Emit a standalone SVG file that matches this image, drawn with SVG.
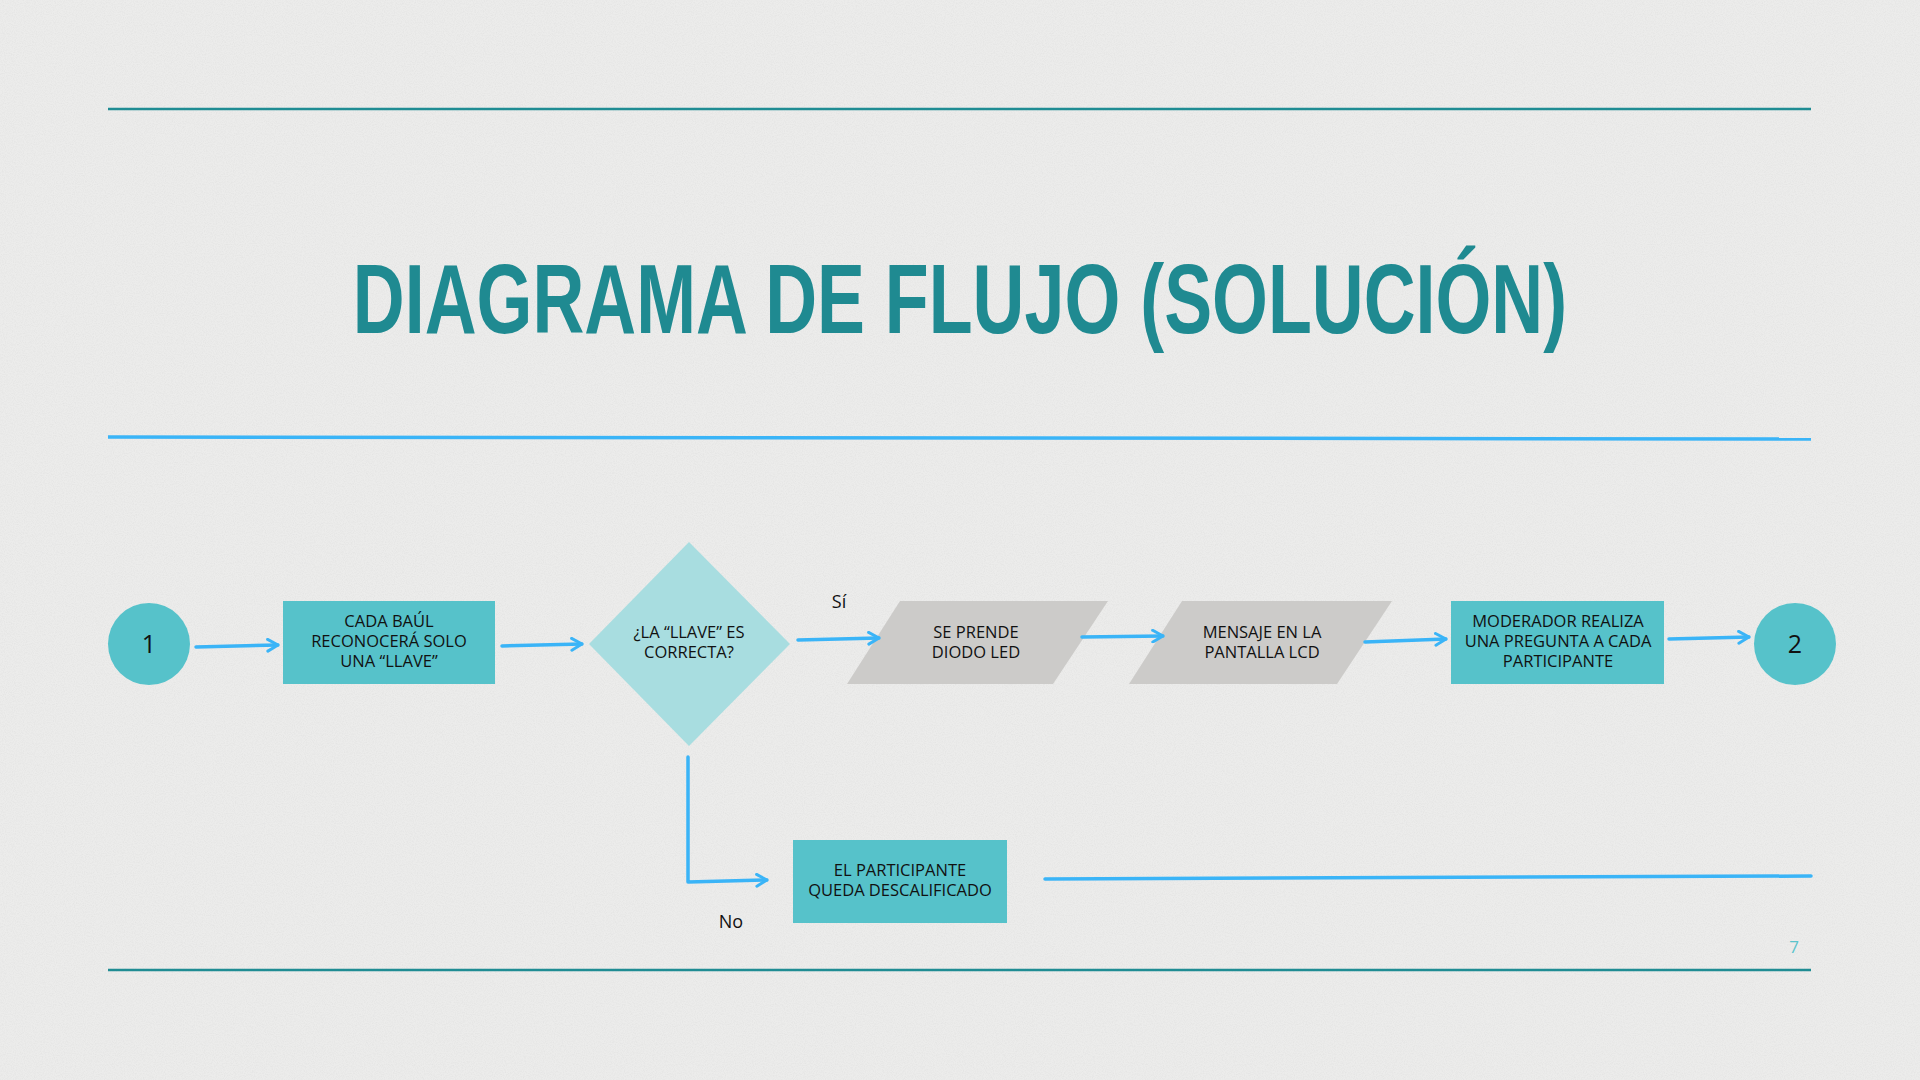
<svg xmlns="http://www.w3.org/2000/svg" width="1920" height="1080" viewBox="0 0 1920 1080">
<defs>
<style>
.node{fill:#56c2ca}
.dia{fill:#a8dde0}
.par{fill:#cccbc9}
.t{font-family:"Open Sans","Noto Sans",sans-serif;font-size:16.5px;fill:#111;text-anchor:middle}
.lbl{font-family:"Open Sans","Noto Sans",sans-serif;font-size:18px;fill:#111;text-anchor:middle}
.num{font-family:"Open Sans","Noto Sans",sans-serif;font-size:25px;fill:#111;text-anchor:middle}
.c{fill:none;stroke:#3ab4f7;stroke-width:3.5;stroke-linecap:round;stroke-linejoin:round}
</style>
<marker id="ah" viewBox="0 0 10 10" refX="9" refY="5" markerWidth="4.2" markerHeight="4.2" markerUnits="strokeWidth" orient="auto">
<path d="M2,1 L9,5 L2,9" fill="none" stroke="#3ab4f7" stroke-width="2" stroke-linecap="round" stroke-linejoin="round"/>
</marker>
<filter id="paper" x="0" y="0" width="100%" height="100%">
<feTurbulence type="fractalNoise" baseFrequency="0.9" numOctaves="2" seed="3" result="n"/>
<feColorMatrix type="matrix" values="0 0 0 0 0.5  0 0 0 0 0.5  0 0 0 0 0.5  0 0 0 -1.2 0.75" result="m"/>
<feComposite in="m" in2="SourceGraphic" operator="in"/>
</filter>
</defs>
<rect width="1920" height="1080" fill="#ececeb"/>
<rect width="1920" height="1080" fill="#ececeb" filter="url(#paper)" opacity="0.25"/>

<g id="decor">
<line x1="108" y1="109" x2="1811" y2="109" stroke="#1f8c93" stroke-width="2.5"/>
<line x1="108" y1="437" x2="1811" y2="439" stroke="#3ab4f7" stroke-width="3.5"/>
<line x1="108" y1="970" x2="1811" y2="970" stroke="#1f8c93" stroke-width="2.5"/>
<text transform="scale(0.733,1)" x="1309.7" y="333" font-family="'Liberation Sans','DejaVu Sans',sans-serif" font-weight="bold" font-size="98" fill="#1f8a91" text-anchor="middle">DIAGRAMA DE FLUJO (SOLUCIÓN)</text>
<text x="1794" y="953" font-family="'Open Sans',sans-serif" font-size="17" fill="#5bc4cc" text-anchor="middle">7</text>
</g>

<g id="n-start">
<circle cx="149" cy="644" r="41" class="node"/>
<text x="149" y="653" class="num">1</text>
</g>
<g id="n-baul">
<rect x="283" y="601" width="212" height="83" class="node"/>
<text class="t"><tspan x="389" y="627">CADA BAÚL</tspan><tspan x="389" y="647">RECONOCERÁ SOLO</tspan><tspan x="389" y="667">UNA “LLAVE”</tspan></text>
</g>
<g id="n-decision">
<polygon points="689,542 790,644 689,746 589,644" class="dia"/>
<text class="t"><tspan x="689" y="638">¿LA “LLAVE” ES</tspan><tspan x="689" y="658">CORRECTA?</tspan></text>
</g>
<g id="n-led">
<polygon points="900,601 1108,601 1053,684 847,684" class="par"/>
<text class="t"><tspan x="976" y="638">SE PRENDE</tspan><tspan x="976" y="658">DIODO LED</tspan></text>
</g>
<g id="n-lcd">
<polygon points="1182,601 1392,601 1337,684 1129,684" class="par"/>
<text class="t"><tspan x="1262" y="638">MENSAJE EN LA</tspan><tspan x="1262" y="658">PANTALLA LCD</tspan></text>
</g>
<g id="n-moderador">
<rect x="1451" y="601" width="213" height="83" class="node"/>
<text class="t"><tspan x="1558" y="627">MODERADOR REALIZA</tspan><tspan x="1558" y="647">UNA PREGUNTA A CADA</tspan><tspan x="1558" y="667">PARTICIPANTE</tspan></text>
</g>
<g id="n-end">
<circle cx="1795" cy="644" r="41" class="node"/>
<text x="1795" y="653" class="num">2</text>
</g>
<g id="n-descalificado">
<rect x="793" y="840" width="214" height="83" class="node"/>
<text class="t"><tspan x="900" y="876">EL PARTICIPANTE</tspan><tspan x="900" y="896">QUEDA DESCALIFICADO</tspan></text>
</g>

<g id="connectors">
<path d="M196,647 L278,645" class="c" marker-end="url(#ah)"/>
<path d="M502,646 L582,644" class="c" marker-end="url(#ah)"/>
<path d="M798,640 L879,638" class="c" marker-end="url(#ah)"/>
<path d="M1082,637 L1163,636" class="c" marker-end="url(#ah)"/>
<path d="M1365,642 L1446,639" class="c" marker-end="url(#ah)"/>
<path d="M1669,639 L1749,637" class="c" marker-end="url(#ah)"/>
<path d="M688,757 L688,882 L767,880" class="c" marker-end="url(#ah)"/>
<path d="M1045,879 L1811,876" class="c"/>
<text x="839" y="608" class="lbl">Sí</text>
<text x="731" y="928" class="lbl">No</text>
</g>
</svg>
